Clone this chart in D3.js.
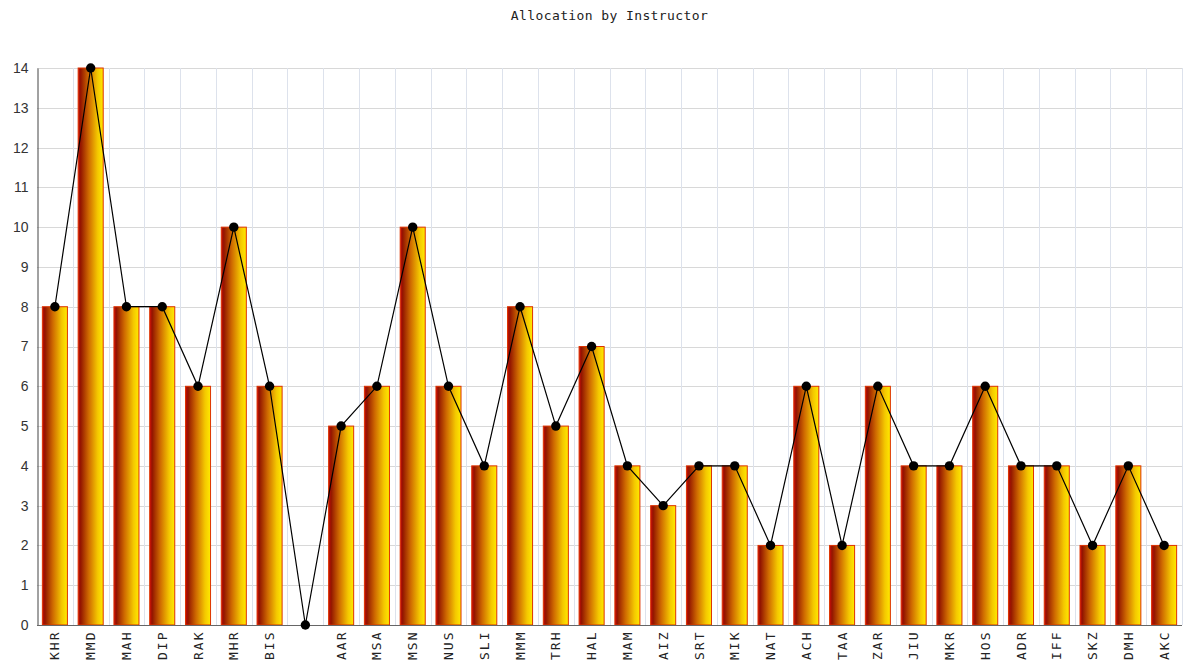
<!DOCTYPE html>
<html>
<head>
<meta charset="utf-8">
<script src="https://cdn.jsdelivr.net/npm/d3@7"></script>
<style>
  html, body { margin: 0; padding: 0; background: #fff; }
  svg { display: block; }
</style>
</head>
<body>
<svg id="chart" width="1190" height="666"></svg>
<script>
// Instructor codes (one slot intentionally unlabelled) and their allocations
const categories = ["KHR","MMD","MAH","DIP","RAK","MHR","BIS","","AAR","MSA","MSN","NUS","SLI","MMM","TRH","HAL","MAM","AIZ","SRT","MIK","NAT","ACH","TAA","ZAR","JIU","MKR","HOS","ADR","IFF","SKZ","DMH","AKC"];
const allocations = [8,14,8,8,6,10,6,0,5,6,10,6,4,8,5,7,4,3,4,4,2,6,2,6,4,4,6,4,4,2,4,2];
const yTicks = [0,1,2,3,4,5,6,7,8,9,10,11,12,13,14];
const title = "Allocation by Instructor";

const svg = d3.select("#chart");
const W = 1190, H = 666;
const margin = { left: 37, right: 8, top: 68, bottom: 41 };
const x0 = margin.left, x1 = W - margin.right;
const y0 = H - margin.bottom, y1 = margin.top;

const idx = categories.map((_, i) => i);
const x = d3.scaleBand().domain(idx).range([x0, x1]).paddingInner(0.3).paddingOuter(0.15);
const xCell = d3.scaleBand().domain(idx).range([x0, x1]);
const y = d3.scaleLinear().domain([0, 14]).range([y0, y1]);

// bar fill: red edge through orange to yellow
const defs = svg.append("defs");
const grad = defs.append("linearGradient").attr("id", "barFill")
  .attr("x1", "0%").attr("x2", "100%").attr("y1", "0%").attr("y2", "0%");
[[0, "#c80a0a"], [0.1, "#931500"], [0.42, "#cf6a00"], [0.78, "#f4c800"], [1, "#ffea00"]]
  .forEach(([o, c]) => grad.append("stop").attr("offset", o).attr("stop-color", c));

// horizontal grid
svg.append("g").selectAll("line").data(yTicks).join("line")
  .attr("x1", x0).attr("x2", x1)
  .attr("y1", d => Math.round(y(d)) + 0.5).attr("y2", d => Math.round(y(d)) + 0.5)
  .attr("stroke", "#d8d8d8").attr("stroke-width", 1);

// vertical grid at cell boundaries
svg.append("g").selectAll("line").data(idx.slice(1).concat([categories.length])).join("line")
  .attr("x1", d => Math.round(d < categories.length ? xCell(d) : x1) + 0.5)
  .attr("x2", d => Math.round(d < categories.length ? xCell(d) : x1) + 0.5)
  .attr("y1", y1).attr("y2", y0)
  .attr("stroke", "#dde2ec").attr("stroke-width", 1);

// bars
svg.append("g").selectAll("rect").data(allocations).join("rect")
  .attr("x", (d, i) => x(i))
  .attr("y", d => y(d))
  .attr("width", x.bandwidth())
  .attr("height", d => y0 - y(d))
  .attr("fill", "url(#barFill)")
  .attr("stroke", "#dd3300").attr("stroke-width", 1);

// axes
const yAxis = d3.axisLeft(y).tickValues(yTicks).tickSize(0).tickPadding(9);
svg.append("g").attr("transform", `translate(${x0 + 0.5},0)`).call(yAxis)
  .call(g => g.select(".domain").attr("stroke", "#444"))
  .call(g => g.selectAll("text").attr("font-family", "Liberation Sans, Arial, sans-serif")
    .attr("font-size", 14).attr("fill", "#333"));

const xAxis = d3.axisBottom(x).tickSize(0).tickFormat(i => categories[i]);
svg.append("g").attr("transform", `translate(0,${y0 + 0.5})`).call(xAxis)
  .call(g => g.select(".domain").attr("stroke", "#666").attr("d", `M${x0},0H${x1}`))
  .call(g => g.selectAll("text")
    .attr("font-family", "DejaVu Sans Mono, monospace").attr("font-size", 13)
    .attr("letter-spacing", 2).attr("fill", "#222")
    .attr("transform", "rotate(-90)").attr("text-anchor", "end")
    .attr("x", -5).attr("y", 0).attr("dy", "0.35em"));

// connecting line and markers
const line = d3.line().x((d, i) => x(i) + x.bandwidth() / 2).y(d => y(d));
svg.append("path").datum(allocations).attr("d", line)
  .attr("fill", "none").attr("stroke", "#000").attr("stroke-width", 1.2);
svg.append("g").selectAll("circle").data(allocations).join("circle")
  .attr("cx", (d, i) => x(i) + x.bandwidth() / 2)
  .attr("cy", d => y(d))
  .attr("r", 4.7).attr("fill", "#000");

// title
svg.append("text").attr("x", (x0 + x1) / 2).attr("y", 20)
  .attr("text-anchor", "middle")
  .attr("font-family", "DejaVu Sans Mono, monospace").attr("font-size", 13)
  .attr("letter-spacing", 0.4).attr("fill", "#222")
  .text(title);
</script>
</body>
</html>
